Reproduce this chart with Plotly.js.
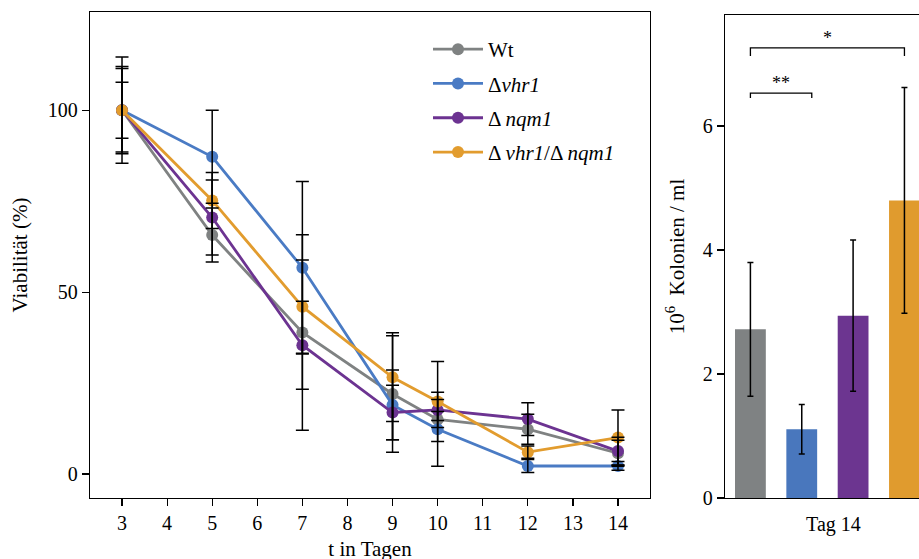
<!DOCTYPE html>
<html>
<head>
<meta charset="utf-8">
<script src="https://cdn.plot.ly/plotly-3.0.1.min.js"></script>
<style>
html,body{margin:0;padding:0;overflow:hidden;background:#fff;}
#chart{width:960px;height:570px;}
</style>
</head>
<body>
<div id="chart"></div>
<script>
// ---- data ----
const days = [3, 5, 7, 9, 10, 12, 14];
const seriesNames = ['Wt', 'Δ<i>vhr1</i>', 'Δ <i>nqm1</i>', 'Δ <i>vhr1</i>/Δ <i>nqm1</i>'];
const wtViab    = [100, 65.7, 38.9, 22.0, 15.0, 12.3, 5.7];
const wtErr     = [11.5, 7.4, 26.9, 16.0, 2.2, 4.1, 3.6];
const vhr1Viab  = [100, 87.2, 56.7, 19.0, 12.3, 2.2, 2.2];
const vhr1Err   = [14.6, 12.8, 23.7, 9.6, 10.2, 1.8, 1.2];
const nqm1Viab  = [100, 70.5, 35.4, 16.9, 17.6, 15.1, 6.3];
const nqm1Err   = [12.0, 10.3, 12.1, 7.5, 2.9, 4.5, 3.8];
const dblViab   = [100, 75.2, 46.0, 26.6, 19.9, 6.0, 10.0];
const dblErr    = [7.7, 7.7, 12.8, 12.2, 11.0, 1.7, 7.6];
const dayTicks  = [3, 4, 5, 6, 7, 8, 9, 10, 11, 12, 13, 14];

const barCategory = ['Tag 14'];
const colonies    = [2.72, 1.11, 2.94, 4.80];
const coloniesErr = [1.08, 0.40, 1.22, 1.82];

const colors = ['#7f8282', '#4a7bc4', '#6c3391', '#e29c2e'];
const barColors = ['#7f8283', '#4977bd', '#6c3590', '#e09b2e'];

const viab = [wtViab, vhr1Viab, nqm1Viab, dblViab];
const errs = [wtErr, vhr1Err, nqm1Err, dblErr];

const FONT = 'Liberation Serif, Times New Roman, serif';
const traces = [];
for (let i = 0; i < 4; i++) {
  traces.push({
    type: 'scatter', mode: 'lines+markers', x: days, y: viab[i],
    name: seriesNames[i], legendgroup: 'g' + i,
    line: {color: colors[i], width: 2.8},
    marker: {color: colors[i], size: 12},
    xaxis: 'x', yaxis: 'y', hoverinfo: 'x+y'
  });
}
for (let i = 0; i < 4; i++) {
  traces.push({
    type: 'scatter', mode: 'markers', x: days, y: viab[i],
    showlegend: false, hoverinfo: 'skip',
    marker: {size: 1, opacity: 0},
    error_y: {type: 'data', array: errs[i], visible: true, color: '#000', thickness: 1.5, width: 6.5},
    xaxis: 'x', yaxis: 'y'
  });
}
for (let i = 0; i < 4; i++) {
  traces.push({
    type: 'bar', x: barCategory, y: [colonies[i]], name: seriesNames[i],
    showlegend: false,
    marker: {color: barColors[i]},
    error_y: {type: 'data', array: [coloniesErr[i]], visible: true, color: '#000', thickness: 1.5, width: 3},
    xaxis: 'x2', yaxis: 'y2'
  });
}

const W = 960, H = 570;
const px = v => v / W, py = v => 1 - v / H;

const axisCommon = {
  showline: true, linecolor: '#000', linewidth: 1.3, mirror: true,
  ticks: 'outside', ticklen: 7, tickwidth: 1.2, tickcolor: '#000',
  showgrid: false, zeroline: false,
  tickfont: {family: FONT, size: 20, color: '#000'}
};

const layout = {
  width: W, height: H,
  margin: {l: 0, r: 0, t: 0, b: 0},
  paper_bgcolor: '#fff', plot_bgcolor: '#fff',
  font: {family: FONT, size: 20, color: '#000'},
  barmode: 'group', bargap: 0.2, bargroupgap: 0.4,
  showlegend: true,
  legend: {
    x: px(428), y: py(29), xanchor: 'left', yanchor: 'top',
    font: {family: FONT, size: 21, color: '#000'},
    tracegroupgap: 4, itemwidth: 50, bgcolor: 'rgba(0,0,0,0)'
  },
  xaxis: Object.assign({}, axisCommon, {
    domain: [px(90), px(650)], range: [2.29, 14.71],
    tickvals: dayTicks, ticktext: dayTicks.map(String),
    title: {text: 't in Tagen', font: {family: FONT, size: 21}, standoff: 8},
    anchor: 'y'
  }),
  yaxis: Object.assign({}, axisCommon, {
    domain: [py(498), py(12)], range: [-6.6, 127],
    tickvals: [0, 50, 100],
    title: {text: 'Viabilität (%)', font: {family: FONT, size: 21}, standoff: 14},
    anchor: 'x'
  }),
  xaxis2: Object.assign({}, axisCommon, {
    domain: [px(725), px(945)], range: [-0.399, 0.458],
    ticks: '', anchor: 'y2', type: 'category',
    ticklabelstandoff: 8, ticklabelshift: 6
  }),
  yaxis2: Object.assign({}, axisCommon, {
    domain: [py(498), py(15)], range: [0, 7.79],
    tickvals: [0, 2, 4, 6],
    title: {text: '10<sup>6</sup>  Kolonien / ml', font: {family: FONT, size: 21}, standoff: 12},
    anchor: 'x2'
  }),
  shapes: [
    {type: 'path', xref: 'x2', yref: 'y2', path: 'M -0.3 6.45 L -0.3 6.53 L -0.061 6.53 L -0.061 6.45', line: {color: '#000', width: 1.3}},
    {type: 'path', xref: 'x2', yref: 'y2', path: 'M -0.3 7.13 L -0.3 7.26 L 0.3 7.26 L 0.3 7.13', line: {color: '#000', width: 1.3}}
  ],
  annotations: [
    {xref: 'x2', yref: 'y2', x: -0.18, y: 6.50, yanchor: 'bottom', text: '**', showarrow: false, font: {family: FONT, size: 18, color: '#000'}},
    {xref: 'x2', yref: 'y2', x: 0.0, y: 7.23, yanchor: 'bottom', text: '*', showarrow: false, font: {family: FONT, size: 18, color: '#000'}}
  ]
};

Plotly.newPlot('chart', traces, layout, {displayModeBar: false, staticPlot: true});
</script>
</body>
</html>
